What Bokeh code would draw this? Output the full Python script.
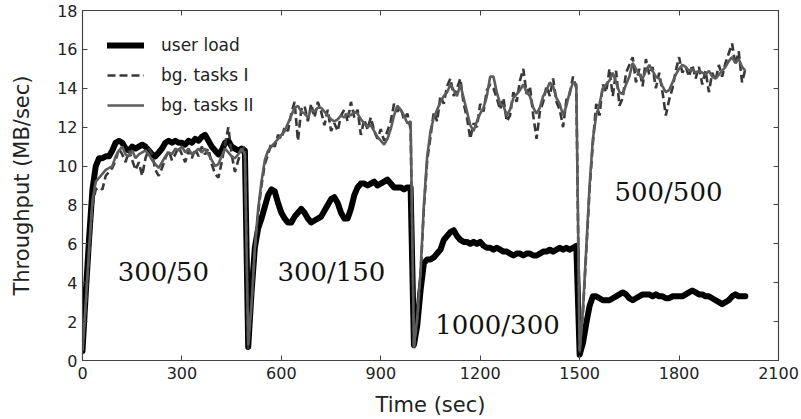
from bokeh.plotting import figure
from bokeh.models import FixedTicker, Range1d, LinearAxis, CustomLabelingPolicy
from bokeh.core.properties import value
from bokeh.embed import file_html
from bokeh.resources import INLINE

# sample times (sec), one sample every 10 s
time = list(range(0, 2001, 10))

# ---- user load (MB/sec) per phase ----
user_p1 = [0.5, 3.5, 6.3, 8.8, 10.0, 10.4, 10.4, 10.5, 10.5, 10.8,
           11.2, 11.3, 11.2, 10.9, 10.8, 11.0, 10.9, 11.0, 11.1, 11.0,
           10.8, 10.6, 10.5, 10.7, 10.9, 11.2, 11.3, 11.2, 11.3, 11.2,
           11.2, 11.1, 11.3, 11.2, 11.4, 11.3, 11.5, 11.6, 11.3, 11.0,
           10.8, 10.6, 10.8, 11.2, 11.3, 11.0, 10.9, 10.8, 10.9, 10.8]
user_p2 = [0.7, 3.5, 5.8, 6.8, 7.3, 7.9, 8.5, 8.8, 8.7, 8.1,
           7.6, 7.3, 7.1, 7.1, 7.4, 7.6, 7.8, 7.6, 7.3, 7.1,
           7.2, 7.3, 7.4, 7.7, 8.0, 8.3, 8.4, 8.1, 7.6, 7.3,
           7.3, 7.8, 8.5, 8.9, 9.1, 9.1, 9.0, 9.1, 9.2, 9.0,
           9.1, 9.2, 9.3, 9.1, 8.9, 8.9, 8.9, 8.8, 8.9, 8.9]
user_p3 = [0.8, 1.8, 3.6, 5.0, 5.2, 5.2, 5.3, 5.5, 5.7, 6.2,
           6.4, 6.6, 6.7, 6.4, 6.2, 6.1, 6.1, 6.0, 6.1, 6.0,
           6.1, 5.9, 5.8, 5.8, 5.7, 5.8, 5.7, 5.6, 5.6, 5.5,
           5.4, 5.5, 5.5, 5.4, 5.5, 5.5, 5.4, 5.4, 5.5, 5.6,
           5.6, 5.7, 5.6, 5.7, 5.8, 5.7, 5.8, 5.7, 5.8, 5.9]
user_p4 = [0.3, 0.9, 1.9, 2.8, 3.3, 3.3, 3.2, 3.1, 3.1, 3.1,
           3.2, 3.3, 3.4, 3.5, 3.4, 3.2, 3.1, 3.2, 3.3, 3.4,
           3.4, 3.4, 3.3, 3.4, 3.3, 3.3, 3.2, 3.2, 3.3, 3.3,
           3.3, 3.3, 3.4, 3.5, 3.6, 3.5, 3.4, 3.4, 3.3, 3.3,
           3.2, 3.1, 3.0, 2.9, 3.0, 3.1, 3.3, 3.4, 3.3, 3.3,
           3.3]

# ---- bg. tasks I (dashed) ----
bg1_p1 = [0.5, 2.8, 5.5, 8.0, 8.8, 8.9, 8.8, 9.5, 9.7, 9.9,
          10.3, 10.9, 10.6, 10.2, 10.8, 10.3, 9.8, 10.2, 9.5, 10.4,
          10.9, 10.6, 9.8, 9.5, 9.9, 10.4, 10.8, 10.3, 10.6, 11.0,
          10.6, 10.2, 10.8, 10.4, 10.9, 10.5, 11.0, 10.6, 10.9, 10.1,
          9.6, 9.4, 10.2, 11.1, 12.0, 10.6, 9.7, 10.3, 10.8, 11.0]
bg1_p2 = [0.6, 2.8, 5.6, 7.6, 9.0, 10.1, 10.6, 11.2, 11.0, 11.6,
          11.4, 12.0, 11.8, 12.7, 13.3, 11.3, 12.9, 13.1, 12.3, 13.2,
          12.5, 13.3, 12.8, 12.1, 12.9, 11.8, 12.2, 11.8, 12.6, 12.9,
          12.3, 13.3, 12.5, 12.9, 11.6, 12.4, 11.9, 12.5, 11.8, 11.4,
          11.9, 11.3, 11.8, 12.3, 13.2, 12.8, 13.0, 12.4, 12.7, 11.9]
bg1_p3 = [0.6, 2.0, 4.4, 7.8, 10.3, 11.5, 12.8, 12.3, 13.6, 13.2,
          14.1, 14.5, 13.6, 14.0, 14.5, 13.2, 12.5, 11.4, 12.2, 12.0,
          13.2, 12.8, 13.9, 14.2, 14.0, 13.5, 12.9, 13.5, 12.3, 12.6,
          13.8, 13.3, 14.4, 15.0, 13.7, 14.1, 12.6, 11.4, 12.8, 13.3,
          14.1, 13.6, 14.5, 13.3, 12.9, 12.0, 13.4, 13.7, 14.6, 14.0]
bg1_p4 = [0.4, 2.5, 5.6, 8.8, 11.2, 13.2, 12.6, 14.2, 13.8, 15.0,
          13.6, 14.9, 13.1, 13.5, 14.8, 15.2, 15.6, 14.3, 15.0, 14.1,
          15.5, 14.7, 15.1, 14.0, 14.8, 13.8, 12.6, 13.4, 14.0, 14.9,
          15.6, 14.8, 15.1, 14.6, 15.2, 14.5, 15.1, 14.2, 14.9, 13.8,
          14.8, 14.4, 15.2, 14.6, 15.3, 15.8, 16.3, 15.2, 15.9, 14.3,
          15.0]

# ---- bg. tasks II (solid grey) ----
bg2_p1 = [0.5, 3.0, 5.8, 8.2, 9.2, 9.4, 9.6, 9.8, 9.9, 10.0,
          10.5, 10.8, 11.0, 10.6, 10.5, 10.8, 10.4, 10.6, 10.7, 10.8,
          10.6, 10.3, 10.1, 9.9, 10.2, 10.5, 10.7, 10.6, 10.9, 10.8,
          11.0, 10.7, 10.9, 10.6, 10.7, 10.9, 10.7, 10.9, 10.6, 10.3,
          10.0, 10.1, 10.5, 10.9, 10.7, 10.5, 10.4, 10.6, 10.9, 10.6]
bg2_p2 = [0.8, 2.9, 5.8, 7.8, 9.2, 10.3, 10.8, 11.0, 11.2, 11.4,
          11.6, 11.8, 12.2, 12.6, 13.0, 13.1, 12.8, 12.7, 12.5, 12.9,
          12.8, 13.0, 13.0, 12.8, 12.6, 12.4, 12.3, 12.4, 12.6, 12.5,
          12.7, 12.6, 12.8, 12.7, 12.4, 12.2, 12.0, 12.1, 11.8, 11.5,
          11.3, 11.1, 11.4, 11.9, 12.6, 13.1, 12.9, 12.6, 12.2, 12.3]
bg2_p3 = [0.7, 2.2, 4.6, 8.0, 10.5, 11.8, 12.5, 12.9, 13.3, 13.6,
          13.8, 14.2, 13.9, 13.6, 14.2, 13.5, 12.8, 12.1, 11.8, 12.3,
          12.7, 13.0, 13.6, 14.6, 14.6, 13.8, 13.2, 13.1, 12.6, 12.9,
          13.5, 13.7, 13.9, 14.2, 13.8, 13.6, 13.0, 12.7, 13.0, 13.6,
          13.9, 14.3, 14.1, 13.5, 13.2, 12.6, 13.1, 13.8, 14.3, 14.2]
bg2_p4 = [0.5, 2.6, 5.8, 9.0, 11.4, 12.6, 13.2, 14.0, 14.2, 14.4,
          14.8, 14.3, 13.8, 13.7, 14.2, 14.6, 15.3, 15.0, 14.7, 14.5,
          14.9, 15.2, 14.9, 14.6, 14.5, 14.1, 13.8, 13.9, 14.3, 14.7,
          15.0, 15.2, 15.1, 14.9, 15.0, 14.8, 14.9, 14.8, 14.7, 14.9,
          14.6, 14.5, 14.7, 14.9, 15.1, 15.4, 15.6, 15.3, 15.5, 15.1,
          14.9]

user_load = user_p1 + user_p2 + user_p3 + user_p4
bg_tasks_1 = bg1_p1 + bg1_p2 + bg1_p3 + bg1_p4
bg_tasks_2 = bg2_p1 + bg2_p2 + bg2_p3 + bg2_p4
assert len(user_load) == len(time) == len(bg_tasks_1) == len(bg_tasks_2)

# phase annotations
phase_labels = ["300/50", "300/150", "1000/300", "500/500"]
phase_x = [244, 751, 1252, 1768]
phase_y = [4.56, 4.56, 1.85, 8.67]

x_ticks = [0, 300, 600, 900, 1200, 1500, 1800, 2100]
y_ticks = [0, 2, 4, 6, 8, 10, 12, 14, 16, 18]

p = figure(width=800, height=419, output_backend="svg", toolbar_location=None,
           x_range=Range1d(0, 2100), y_range=Range1d(0, 18),
           min_border_left=82, min_border_right=22, min_border_top=10,
           min_border_bottom=58)
p.xgrid.visible = False
p.ygrid.visible = False
p.outline_line_color = "#444444"
p.outline_line_width = 1.2
p.background_fill_color = "white"

p.line(time, user_load, line_color="black", line_width=6,
       line_join="round", line_cap="round", legend_label="user load")
p.line(time, bg_tasks_1, line_color="#383838", line_width=2.6,
       line_dash="8 4", legend_label="bg. tasks I")
p.line(time, bg_tasks_2, line_color="#5c5c5c", line_width=2.6,
       legend_label="bg. tasks II")

p.text(x=phase_x, y=phase_y, text=phase_labels,
       text_font=value("DejaVu Serif"), text_font_size="26px",
       text_align="center", text_baseline="middle", text_color="#111111")

tick_font = "DejaVu Sans"
for ax in [p.xaxis[0], p.yaxis[0]]:
    ax.major_tick_in = 5
    ax.major_tick_out = 0
    ax.minor_tick_in = 0
    ax.minor_tick_out = 0
    ax.axis_line_color = "#444444"
    ax.major_tick_line_color = "#444444"
    ax.major_label_text_font = tick_font
    ax.major_label_text_font_size = "16px"
    ax.major_label_text_color = "#222222"
    ax.axis_label_text_font = tick_font
    ax.axis_label_text_font_size = "21px"
    ax.axis_label_text_font_style = "normal"
    ax.axis_label_text_color = "#222222"

p.xaxis[0].ticker = FixedTicker(ticks=x_ticks)
p.yaxis[0].ticker = FixedTicker(ticks=y_ticks)
p.xaxis[0].axis_label = "Time (sec)"
p.yaxis[0].axis_label = "Throughput (MB/sec)"
p.xaxis[0].major_label_standoff = 6
p.xaxis[0].axis_label_standoff = 11
p.yaxis[0].major_label_standoff = 5
p.yaxis[0].axis_label_standoff = 20

hide_labels = "for (const i of indices) indices.unset(i)"
top_axis = LinearAxis(ticker=FixedTicker(ticks=x_ticks), major_tick_in=5,
                      major_tick_out=0, minor_tick_in=0, minor_tick_out=0,
                      major_label_policy=CustomLabelingPolicy(code=hide_labels),
                      major_label_text_font_size="1px", major_label_standoff=0,
                      axis_line_color="#444444", major_tick_line_color="#444444")
right_axis = LinearAxis(ticker=FixedTicker(ticks=y_ticks), major_tick_in=5,
                        major_tick_out=0, minor_tick_in=0, minor_tick_out=0,
                        major_label_policy=CustomLabelingPolicy(code=hide_labels),
                        major_label_text_font_size="1px", major_label_standoff=0,
                        axis_line_color="#444444", major_tick_line_color="#444444")
p.add_layout(top_axis, "above")
p.add_layout(right_axis, "right")

lg = p.legend[0]
lg.location = "top_left"
lg.background_fill_alpha = 0
lg.border_line_color = None
lg.label_text_font = tick_font
lg.label_text_font_size = "17px"
lg.label_text_color = "#222222"
lg.glyph_width = 37
lg.glyph_height = 16
lg.label_height = 16
lg.label_standoff = 17
lg.spacing = 10
lg.padding = 0
lg.margin = 25

open("out.html", "w").write(file_html(p, INLINE))
